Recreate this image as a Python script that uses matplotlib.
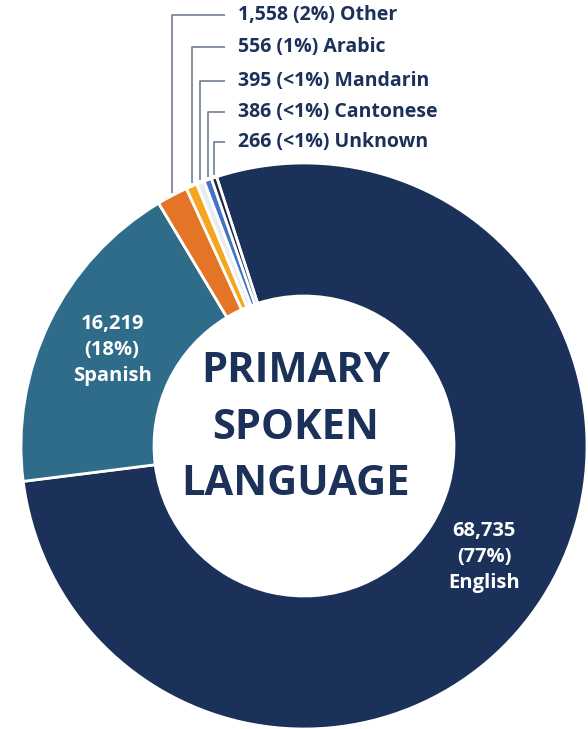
import numpy as np
import matplotlib
matplotlib.use("Agg")
import matplotlib.pyplot as plt

plt.rcParams["font.family"] = ["Open Sans", "DejaVu Sans"]

# data
languages = ["English", "Spanish", "Other", "Arabic", "Mandarin", "Cantonese", "Unknown"]
counts = [68735, 16219, 1558, 556, 395, 386, 266]
pct_labels = ["77%", "18%", "2%", "1%", "<1%", "<1%", "<1%"]
colors = ["#1b3159", "#2e6c8a", "#e47527", "#f6a51f", "#e8ecf0", "#4472c4", "#1a2740"]

navy = "#1b3159"
leader = "#6f7f96"

fig = plt.figure(figsize=(5.88, 7.29), dpi=100)
ax = fig.add_axes([0, 0, 1, 1])

start = 108
wedges, _ = ax.pie(counts, colors=colors, startangle=start, counterclock=False,
                   radius=1.0, wedgeprops=dict(width=0.47, edgecolor="white", linewidth=2))

# pie() resets the limits, so set them afterwards
ax.set_xlim(-304 / 283, (588 - 304) / 283)
ax.set_ylim(-1.0, 446 / 283)
ax.set_aspect("equal")
ax.axis("off")

# big slice labels inside the ring
ax.text((112 - 304) / 283, (446 - 350) / 283,
        "{:,}\n({})\n{}".format(counts[1], pct_labels[1], languages[1]),
        ha="center", va="center", color="white", fontsize=14.5, fontweight="bold",
        linespacing=1.38)
ax.text((484 - 304) / 283, (446 - 557) / 283,
        "{:,}\n({})\n{}".format(counts[0], pct_labels[0], languages[0]),
        ha="center", va="center", color="white", fontsize=14.5, fontweight="bold",
        linespacing=1.38)

# centre title
ax.text((296 - 304) / 283, (446 - 428) / 283, "PRIMARY\nSPOKEN\nLANGUAGE", ha="center",
        va="center", color=navy, fontsize=30, fontweight="bold", linespacing=1.5)

# small slices with leader lines
label_py = [15, 47, 81, 112, 142]
for i, py in zip(range(2, 7), label_py):
    w = wedges[i]
    mid = np.deg2rad((w.theta1 + w.theta2) / 2)
    x0 = np.cos(mid)
    y0 = np.sin(mid)
    yl = (446 - py) / 283
    xe = (225 - 304) / 283
    ax.plot([x0, x0, xe], [y0 + 0.01, yl, yl], color=leader, linewidth=1.2,
            solid_capstyle="butt")
    ax.text((238 - 304) / 283, yl, "{:,} ({}) {}".format(counts[i], pct_labels[i], languages[i]),
            ha="left", va="center", color=navy, fontsize=14, fontweight="bold")

fig.savefig("out.png", dpi=100)
